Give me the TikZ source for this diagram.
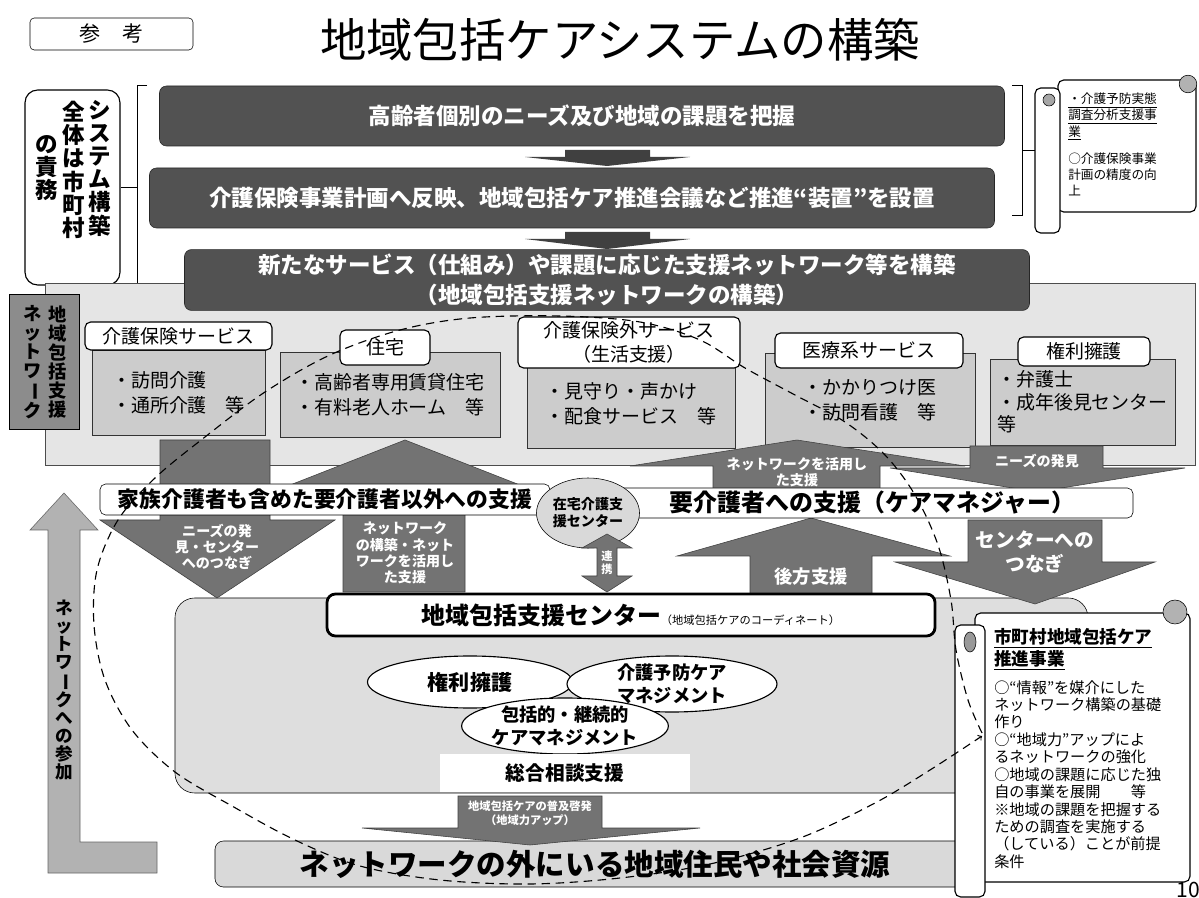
\documentclass[tikz,border=0pt]{standalone}
\usepackage{fontspec}
\setmainfont{Noto Sans CJK JP}
\usetikzlibrary{shapes.geometric}
\newcommand{\vbar}{\rotatebox[origin=c]{-90}{ー}}

\begin{document}
\begin{tikzpicture}[x=0.25mm,y=-0.25mm,
  darkbar/.style={draw=black!85,fill=black!68,rounded corners=5pt,text=white,align=center,
    font=\bfseries\fontsize{16}{21}\selectfont,minimum width=211.25mm,minimum height=15mm},
  tab/.style={draw,thick,fill=white,rounded corners=4pt,align=center,inner sep=0pt,
    font=\fontsize{13.5}{17}\selectfont},
  body/.style={draw=black!80,fill=black!20,align=left,inner sep=0pt,
    font=\fontsize{13.5}{18}\selectfont},
  blockarrow/.style={draw=black!75,fill=black!55},
  arrowtext/.style={text=white,align=center,font=\bfseries\fontsize{10}{11.5}\selectfont},
  whitebar/.style={draw,fill=white,rounded corners=4pt,inner sep=0pt},
  vcol/.style={align=center,inner sep=0pt},
  oval/.style={ellipse,draw,thick,fill=white,inner sep=0pt,align=center,
    font=\bfseries\fontsize{13}{16}\selectfont},
  scroll/.style={draw,thick,fill=white,rounded corners=4pt}]
\useasboundingbox (0,0) rectangle (1199,898);

% heading
\node [draw,rounded corners=3pt,minimum width=40.75mm,minimum height=8mm,
  font=\fontsize{15}{18}\selectfont] (ref) at (111.5,34) {参\quad 考};
\node [font=\fontsize{33}{38}\selectfont] (title) at (620,40) {地域包括ケアシステムの構築};

% duty of the municipality
\node [draw,thick,rounded corners=9pt,minimum width=23.75mm,minimum height=48.75mm] (duty) at (72.5,187.5) {};
\node [vcol,font=\bfseries\fontsize{16}{16.5}\selectfont] (duty1) at (100,168) {シ\\ス\\テ\\ム\\構\\築};
\node [vcol,font=\bfseries\fontsize{16}{16.5}\selectfont] (duty2) at (74,170) {全\\体\\は\\市\\町\\村};
\node [vcol,font=\bfseries\fontsize{16}{16.5}\selectfont] (duty3) at (47,168) {の\\責\\務};
\draw (147,85) -- (137,85) -- (137,287) -- (147,287) (137,187.5) -- (duty.east);

% the three steps
\node [darkbar] (need) at (582,116) {高齢者個別のニーズ及び地域の課題を把握};
\node [darkbar] (plan) at (572,198) {介護保険事業計画へ反映、地域包括ケア推進会議など推進“装置”を設置};
\fill [black!75] (565,150) rectangle (650,157) (525,157) -- (690,157) -- (607,166) -- cycle;
\fill [black!75] (565,232) rectangle (650,239) (525,239) -- (690,239) -- (607,249) -- cycle;
\draw (1012,85) -- (1022,85) -- (1022,215) -- (1012,215) (1022,150) -- (1036,150);

% network panel
\node [draw=black!70,fill=black!10,minimum width=287.5mm,minimum height=45.5mm] (net) at (620,374) {};
\node [darkbar] (build) at (607,280) {新たなサービス（仕組み）や課題に応じた支援ネットワーク等を構築\\（地域包括支援ネットワークの構築）};
\node [draw,fill=black!45,minimum width=17.5mm,minimum height=33.75mm] (netlbl) at (44,362) {};
\node [vcol,font=\bfseries\fontsize{13}{13.5}\selectfont] (netlbl1) at (58,362) {地\\域\\包\\括\\支\\援};
\node [vcol,font=\bfseries\fontsize{13}{13.5}\selectfont] (netlbl2) at (33,362) {ネ\\ッ\\ト\\ワ\\\vbar\\ク};

\node [body,minimum width=43.25mm,minimum height=21.25mm] (bCare) at (178.5,392.5) {・訪問介護\\・通所介護　等};
\node [tab,minimum width=46.75mm,minimum height=7mm] (hCare) at (178.5,336) {介護保険サービス};
\node [body,minimum width=55mm,minimum height=21.25mm] (bHouse) at (390,394.5) {・高齢者専用賃貸住宅\\・有料老人ホーム　等};
\node [tab,minimum width=22.5mm,minimum height=8.75mm] (hHouse) at (385,347.5) {住宅};
\node [body,minimum width=52mm,minimum height=22mm] (bLife) at (631,404) {・見守り・声かけ\\・配食サービス　等};
\node [tab,minimum width=55.5mm,minimum height=12.75mm] (hLife) at (629,342.5) {介護保険外サービス\\（生活支援）};
\node [body,minimum width=52.5mm,minimum height=23.5mm] (bMed) at (870,400) {・かかりつけ医\\・訪問看護　等};
\node [tab,minimum width=47mm,minimum height=8.75mm] (hMed) at (869,350.5) {医療系サービス};
\node [body,minimum width=46.25mm,minimum height=21.5mm,font=\fontsize{13.5}{16}\selectfont] (bRight) at (1082.5,402) {・弁護士\\・成年後見センター\\等};
\node [tab,minimum width=33mm,minimum height=7.25mm] (hRight) at (1084,351.5) {権利擁護};

% centre panel
\node [draw,fill=black!13,rounded corners=14pt,minimum width=228.25mm,minimum height=48.75mm] (ctr) at (631.5,695.5) {};

% arrows of the middle band
\path [blockarrow] (160,440) -- (270,440) -- (270,520) -- (335,520) -- (217,598) -- (100,520) -- (160,520) -- cycle;
\node [arrowtext] (findL) at (217,547) {ニーズの発\\見・センター\\へのつなぎ};
\path [blockarrow] (343,592) -- (465,592) -- (465,487) -- (525,487) -- (405,440) -- (285,487) -- (343,487) -- cycle;
\node [arrowtext] (useL) at (405,553) {ネットワーク\\の構築・ネット\\ワークを活用し\\た支援};
\path [blockarrow] (713,492) -- (880,492) -- (880,466) -- (965,466) -- (797,440) -- (630,466) -- (713,466) -- cycle;
\node [arrowtext] (useR) at (797,472) {ネットワークを活用し\\た支援};
\path [blockarrow] (970,446) -- (1103,446) -- (1103,468) -- (1185,468) -- (1037,492) -- (890,468) -- (970,468) -- cycle;
\node [arrowtext] (findR) at (1037,461) {ニーズの発見};
\path [blockarrow] (750,598) -- (872,598) -- (872,556) -- (950,556) -- (811,518) -- (677,556) -- (750,556) -- cycle;
\node [arrowtext,font=\bfseries\fontsize{13}{15}\selectfont] (backup) at (811,577) {後方支援};
\path [blockarrow] (968,520) -- (1102,520) -- (1102,562) -- (1155,562) -- (1035,604) -- (895,562) -- (968,562) -- cycle;
\node [arrowtext,font=\bfseries\fontsize{14}{17}\selectfont] (link) at (1035,552) {センターへの\\つなぎ};

\node [whitebar,minimum width=112.5mm,minimum height=7.75mm,font=\bfseries\fontsize{15.5}{18}\selectfont] (family) at (325,499.5) {家族介護者も含めた要介護者以外への支援};
\node [whitebar,minimum width=130.25mm,minimum height=7.5mm,font=\bfseries\fontsize{17}{19}\selectfont] (manager) at (872.5,503) {要介護者への支援（ケアマネジャー）};
\node [ellipse,draw,fill=black!15,minimum width=25.75mm,minimum height=17.5mm,inner sep=0pt,align=center,
  font=\bfseries\fontsize{10}{12}\selectfont] (home) at (588,513) {在宅介護支\\援センター};
\path [blockarrow] (597,548) -- (582,548) -- (607,534) -- (632,548) -- (617,548) -- (617,576) -- (632,576) -- (607,592) -- (582,576) -- (597,576) -- cycle;
\node [arrowtext,font=\bfseries\fontsize{8}{9}\selectfont] (coop) at (607,563) {連\\携};

% inside the centre
\node [draw,line width=2pt,fill=white,rounded corners=6pt,minimum width=152mm,minimum height=10.5mm] (hub) at (631,615)
  {{\bfseries\fontsize{17}{20}\selectfont 地域包括支援センター}{\fontsize{8}{10}\selectfont（地域包括ケアのコーディネート）}};
\node [oval,minimum width=51.25mm,minimum height=13mm,font=\bfseries\fontsize{15}{18}\selectfont] (rights) at (470,682) {権利擁護};
\node [oval,minimum width=52.5mm,minimum height=14mm] (prev) at (672,684) {介護予防ケア\\マネジメント};
\node [oval,minimum width=50mm,minimum height=14mm] (cont) at (565,726) {包括的・継続的\\ケアマネジメント};
\node [fill=white,minimum width=62.5mm,minimum height=9.5mm,font=\bfseries\fontsize{14}{17}\selectfont] (consult) at (565,773) {総合相談支援};

% outside the network
\node [draw,fill=black!15,rounded corners=6pt,minimum width=190mm,minimum height=11.5mm,
  font=\bfseries\fontsize{21}{24}\selectfont] (outside) at (595,864) {ネットワークの外にいる地域住民や社会資源};
\path [blockarrow] (458,796) -- (602,796) -- (602,828) -- (700,828) -- (530,845) -- (362,828) -- (458,828) -- cycle;
\node [arrowtext,font=\bfseries\fontsize{8}{10}\selectfont] (spread) at (530,813) {地域包括ケアの普及啓発\\（地域力アップ）};
\path [draw=black!60,fill=black!30] (48,873) -- (157,873) -- (157,842) -- (80,842) -- (80,530) -- (98,530) -- (64,493) -- (30,530) -- (48,530) -- cycle;
\node [vcol,font=\bfseries\fontsize{12.5}{12.8}\selectfont] (join) at (64,690) {ネ\\ッ\\ト\\ワ\\\vbar\\ク\\へ\\の\\参\\加};

% scrolls
\draw [scroll] (1058,80) rectangle (1196,212);
\draw [scroll] (1035,88) rectangle (1060,233);
\draw [fill=black!35] (1049,100) circle [radius=1.5mm];
\draw [fill=black!30] (1188,84) circle [radius=2.2mm];
\node [anchor=north west,align=left,inner sep=0pt,font=\fontsize{9}{11.4}\selectfont] (survey) at (1068,93)
  {\underline{・介護予防実態}\\\underline{調査分析支援事}\\\underline{業}\\[8pt]○介護保険事業\\計画の精度の向\\上};
\draw [scroll] (975,613) rectangle (1190,882);
\draw [scroll] (955,625) rectangle (985,897);
\draw [fill=black!40] (970,642) ellipse [x radius=1.5mm,y radius=2.5mm];
\draw [fill=black!30] (1175,612) circle [radius=3mm];
\node [anchor=north west,align=left,inner sep=0pt,font=\bfseries\fontsize{12.5}{15.5}\selectfont] (promo) at (994,628)
  {\underline{市町村地域包括ケア}\\\underline{推進事業}};
\node [anchor=north west,align=left,inner sep=0pt,font=\fontsize{10.8}{12.4}\selectfont] (promotxt) at (994,680)
  {○“情報”を媒介にした\\ネットワーク構築の基礎\\作り\\○“地域力”アップによ\\るネットワークの強化\\○地域の課題に応じた独\\自の事業を展開　　等\\※地域の課題を把握する\\ための調査を実施する\\（している）ことが前提\\条件};
\node [font=\fontsize{15}{18}\selectfont] (page) at (1188,890) {10};

% reach of the network
\draw [thick,dash pattern=on 6pt off 4pt,->] plot [smooth,tension=0.55] coordinates {
  (982,733) (968,700) (956,650) (951,600) (938,545) (915,495) (885,455) (845,422) (795,395)
  (745,368) (700,340) (640,322) (560,316) (470,318) (400,330) (330,355) (265,392) (205,437)
  (155,478) (118,520) (97,570) (94,625) (105,680) (132,730) (175,772) (232,806) (295,840)
  (360,866) (440,880) (530,884) (620,878) (710,864) (800,838) (875,803) (930,770) (982,736)};
\end{tikzpicture}
\end{document}
